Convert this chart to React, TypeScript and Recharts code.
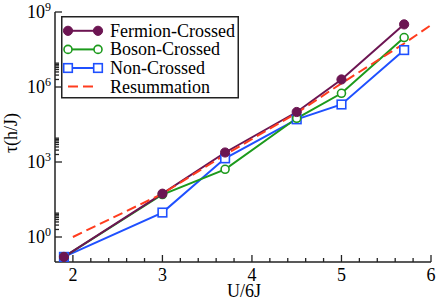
import React from 'react';
import { LineChart, Line, XAxis, YAxis, Legend } from 'recharts';

const uValues = [1.9, 3, 3.7, 4.5, 5, 5.7];
const fermionCrossed = [0.16, 54, 2400, 1.0e5, 2.0e6, 3.2e8];
const bosonCrossed = [0.16, 50, 510, 5.6e4, 5.6e5, 9.5e7];
const nonCrossed = [0.16, 9.5, 1400, 5.1e4, 2.0e5, 3.0e7];
const resumU = [2, 3, 3.7, 4.5, 5, 5.7, 6];
const resummation = [1, 54, 1950, 9.1e4, 1.4e6, 5.5e7, 3.0e8];

const seriesNames = ['Fermion-Crossed', 'Boson-Crossed', 'Non-Crossed', 'Resummation'];

const xMajorTicks = [2, 3, 4, 5, 6];
const xMinorTicks = [2.2, 2.4, 2.6, 2.8, 3.2, 3.4, 3.6, 3.8, 4.2, 4.4, 4.6, 4.8, 5.2, 5.4, 5.6, 5.8];
const yMajorTicks = [1, 1e3, 1e6, 1e9];
const yMajorExponents = ['0', '3', '6', '9'];
const yMinorTicks = [
  2, 3, 4, 5, 6, 7, 8, 9,
  2e3, 3e3, 4e3, 5e3, 6e3, 7e3, 8e3, 9e3,
  2e6, 3e6, 4e6, 5e6, 6e6, 7e6, 8e6, 9e6,
];

const PURPLE = '#6c1552';
const GREEN = '#1c9a1c';
const BLUE = '#1f50ff';
const RED = '#ff3c1e';
const AXIS = '#222';
const FONT = '"Liberation Serif", "Times New Roman", serif';

const toPoints = (xs: number[], ys: number[]) => xs.map((x, i) => ({ x, y: ys[i] }));
const fermionData = toPoints(uValues, fermionCrossed);
const bosonData = toPoints(uValues, bosonCrossed);
const nonData = toPoints(uValues, nonCrossed);
const resumData = toPoints(resumU, resummation);

const isMajorX = (v: number) => xMajorTicks.some((t) => Math.abs(t - v) < 1e-6);

const XTick = (props: any) => {
  const { x, y, payload, side } = props;
  const v = payload.value;
  const major = isMajorX(v);
  const len = major ? 7 : 4;
  const dir = side === 'top' ? 1 : -1;
  return (
    <g>
      <line x1={x} y1={y} x2={x} y2={y + dir * len} stroke={AXIS} strokeWidth={1.3} />
      {side === 'bottom' && major && (
        <text x={x} y={y + 18.5} textAnchor="middle" fontSize={18} fontFamily={FONT} fill="#000">
          {String(v)}
        </text>
      )}
    </g>
  );
};

const YTick = (props: any) => {
  const { x, y, payload, side } = props;
  const v = payload.value;
  const idx = yMajorTicks.findIndex((t) => Math.abs(t - v) / t < 1e-6);
  const major = idx >= 0;
  const len = major ? 7 : 4;
  const dir = side === 'left' ? 1 : -1;
  return (
    <g>
      <line x1={x} y1={y} x2={x + dir * len} y2={y} stroke={AXIS} strokeWidth={1.3} />
      {side === 'left' && major && (
        <text x={x - 4} y={y + 6} textAnchor="end" fontSize={18} fontFamily={FONT} fill="#000">
          10
          <tspan dy={-7} fontSize={12}>{yMajorExponents[idx]}</tspan>
        </text>
      )}
    </g>
  );
};

const SquareDot = (p: any) => {
  if (p.cx == null || p.cy == null) return <g key={p.index} />;
  return (
    <rect key={p.index} x={p.cx - 4.3} y={p.cy - 4.3} width={8.6} height={8.6} fill="#fff" stroke={BLUE} strokeWidth={1.6} />
  );
};

const legendColors = [PURPLE, GREEN, BLUE, RED];

const LegendBox = () => (
  <svg width={178} height={83} style={{ display: 'block' }}>
    <rect x={0.75} y={0.75} width={176.5} height={81} fill="#fff" stroke={AXIS} strokeWidth={1.5} />
    {seriesNames.map((name, i) => {
      const cy = 14.8 + i * 18.6;
      const c = legendColors[i];
      return (
        <g key={name}>
          {i < 3 ? (
            <line x1={7} y1={cy} x2={37} y2={cy} stroke={c} strokeWidth={2} />
          ) : (
            <line x1={7} y1={cy} x2={37} y2={cy} stroke={c} strokeWidth={2} strokeDasharray="10 5" />
          )}
          {i === 0 && [7, 37].map((mx) => <circle key={mx} cx={mx} cy={cy} r={4.6} fill={c} stroke={c} strokeWidth={1} />)}
          {i === 1 && [7, 37].map((mx) => <circle key={mx} cx={mx} cy={cy} r={4} fill="#fff" stroke={c} strokeWidth={1.6} />)}
          {i === 2 && [7, 37].map((mx) => <rect key={mx} x={mx - 4.3} y={cy - 4.3} width={8.6} height={8.6} fill="#fff" stroke={c} strokeWidth={1.6} />)}
          <text x={49} y={cy + 6} fontSize={18} fontFamily={FONT} fill="#000">{name}</text>
        </g>
      );
    })}
  </svg>
);

export default function App() {
  return (
    <div style={{ position: 'absolute', left: 0, top: 0 }}>
      <LineChart width={437} height={301} margin={{ top: 12, right: 6, left: 0, bottom: 0 }}>
        <XAxis
          xAxisId={0}
          type="number"
          dataKey="x"
          domain={[1.8, 6]}
          allowDataOverflow
          ticks={[...xMajorTicks, ...xMinorTicks]}
          interval={0}
          height={39}
          tickSize={0}
          tickMargin={0}
          tickLine={false}
          axisLine={{ stroke: AXIS, strokeWidth: 1.5 }}
          tick={(p: any) => <XTick {...p} side="bottom" />}
          label={{
            value: 'U/6J',
            content: (lp: any) => {
              const vb = lp.viewBox || { x: 55, y: 262, width: 376, height: 39 };
              return (
                <text x={vb.x + vb.width / 2 + 1} y={vb.y + 35} textAnchor="middle" fontSize={18} fontFamily={FONT} fill="#000">
                  U/6J
                </text>
              );
            },
          }}
        />
        <XAxis
          xAxisId="top"
          orientation="top"
          type="number"
          dataKey="x"
          domain={[1.8, 6]}
          allowDataOverflow
          ticks={[...xMajorTicks, ...xMinorTicks]}
          interval={0}
          height={0}
          tickSize={0}
          tickMargin={0}
          tickLine={false}
          axisLine={{ stroke: AXIS, strokeWidth: 1.5 }}
          tick={(p: any) => <XTick {...p} side="top" />}
        />
        <YAxis
          yAxisId={0}
          type="number"
          scale="log"
          domain={[0.1, 1e9]}
          allowDataOverflow
          ticks={[...yMajorTicks, ...yMinorTicks]}
          interval={0}
          width={55}
          tickSize={0}
          tickMargin={0}
          tickLine={false}
          axisLine={{ stroke: AXIS, strokeWidth: 1.5 }}
          tick={(p: any) => <YTick {...p} side="left" />}
          label={{
            value: 'τ(h/J)',
            content: (lp: any) => {
              const vb = lp.viewBox || { x: 0, y: 12, width: 55, height: 250 };
              const cx = vb.x + 17;
              const cy = vb.y + vb.height / 2 - 4;
              return (
                <text x={cx} y={cy} transform={`rotate(-90 ${cx} ${cy})`} textAnchor="middle" fontSize={18} fontFamily={FONT} fill="#000">
                  τ(h/J)
                </text>
              );
            },
          }}
        />
        <YAxis
          yAxisId="right"
          orientation="right"
          type="number"
          scale="log"
          domain={[0.1, 1e9]}
          allowDataOverflow
          ticks={[...yMajorTicks, ...yMinorTicks]}
          interval={0}
          width={0}
          tickSize={0}
          tickMargin={0}
          tickLine={false}
          axisLine={{ stroke: AXIS, strokeWidth: 1.5 }}
          tick={(p: any) => <YTick {...p} side="right" />}
        />
        <Legend
          layout="vertical"
          align="center"
          verticalAlign="middle"
          wrapperStyle={{ left: 61, top: 16, width: 178, height: 83 }}
          content={() => <LegendBox />}
        />
        <Line
          data={nonData}
          dataKey="y"
          name={seriesNames[2]}
          type="linear"
          stroke={BLUE}
          strokeWidth={2}
          dot={(p: any) => <SquareDot {...p} key={p.index} />}
          isAnimationActive={false}
        />
        <Line
          data={bosonData}
          dataKey="y"
          name={seriesNames[1]}
          type="linear"
          stroke={GREEN}
          strokeWidth={2}
          dot={{ r: 4, fill: '#fff', stroke: GREEN, strokeWidth: 1.6 }}
          isAnimationActive={false}
        />
        <Line
          data={fermionData}
          dataKey="y"
          name={seriesNames[0]}
          type="linear"
          stroke={PURPLE}
          strokeWidth={2}
          dot={{ r: 4.6, fill: PURPLE, stroke: PURPLE, strokeWidth: 1 }}
          isAnimationActive={false}
        />
        <Line
          data={resumData}
          dataKey="y"
          name={seriesNames[3]}
          type="linear"
          stroke={RED}
          strokeWidth={2}
          strokeDasharray="10 5"
          dot={false}
          isAnimationActive={false}
        />
      </LineChart>
    </div>
  );
}
